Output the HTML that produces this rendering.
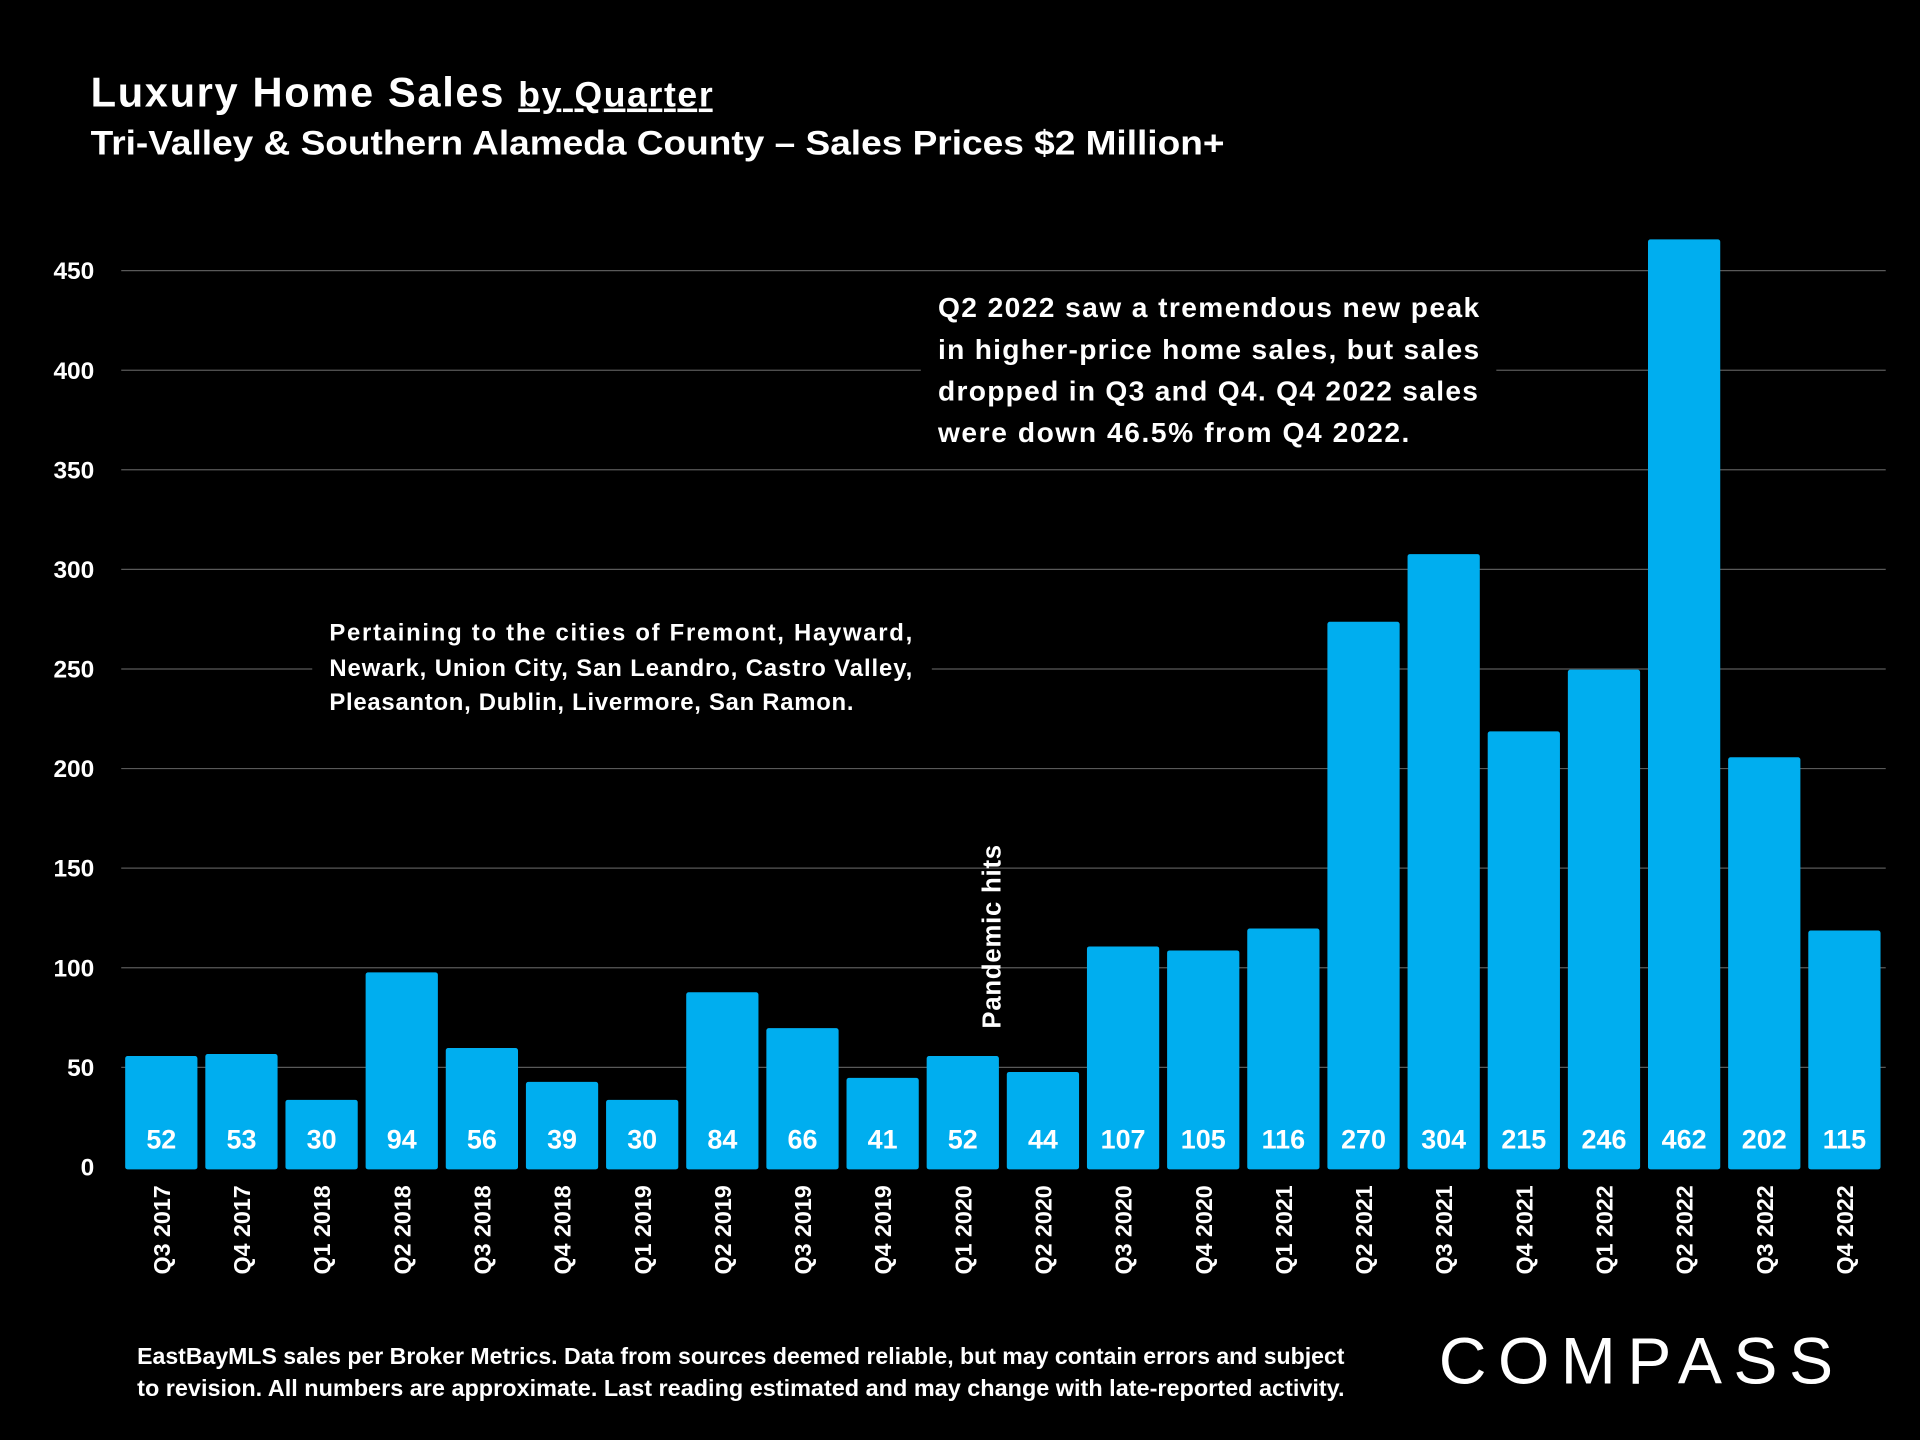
<!DOCTYPE html>
<html><head><meta charset="utf-8"><style>
html,body{margin:0;padding:0;background:#000;}
svg{display:block;}
text{font-family:"Liberation Sans","DejaVu Sans",sans-serif;fill:#fff;}
</style></head><body>
<svg id="chart" width="1920" height="1440" viewBox="0 0 1568 1176" xmlns="http://www.w3.org/2000/svg">
<rect x="0" y="0" width="1568" height="1176" fill="#000"/>
<text x="74" y="87" font-size="34" font-weight="bold" textLength="508" lengthAdjust="spacing">Luxury Home Sales <tspan font-size="29" text-decoration="underline">by Quarter</tspan></text>
<text x="74" y="126" font-size="28" font-weight="bold" textLength="926" lengthAdjust="spacingAndGlyphs">Tri-Valley &amp; Southern Alameda County – Sales Prices $2 Million+</text>
<g id="grid"></g>
<g id="yticks"></g>
<g id="bars"></g>
<g id="xticks"></g>
<g>
<rect x="752" y="232" width="470" height="140" fill="#000"/>
<text x="766" y="259" font-size="23" font-weight="bold" textLength="442" lengthAdjust="spacing">Q2 2022 saw a tremendous new peak</text>
<text x="766" y="293" font-size="23" font-weight="bold" textLength="442" lengthAdjust="spacing">in  higher-price home sales, but sales</text>
<text x="766" y="327" font-size="23" font-weight="bold" textLength="441" lengthAdjust="spacing">dropped in Q3 and Q4. Q4 2022 sales</text>
<text x="766" y="361" font-size="23" font-weight="bold" textLength="385" lengthAdjust="spacing">were down 46.5% from Q4 2022.</text>
</g>
<g>
<rect x="255" y="500" width="506" height="90" fill="#000"/>
<text x="269" y="523" font-size="19.5" font-weight="bold" textLength="476" lengthAdjust="spacing">Pertaining to the cities of Fremont, Hayward,</text>
<text x="269" y="552" font-size="19.5" font-weight="bold" textLength="476" lengthAdjust="spacing">Newark, Union City, San Leandro, Castro Valley,</text>
<text x="269" y="580" font-size="19.5" font-weight="bold" textLength="428" lengthAdjust="spacing">Pleasanton, Dublin, Livermore, San Ramon.</text>
</g>
<text transform="translate(817,840) rotate(-90)" font-size="21" font-weight="bold" textLength="150" lengthAdjust="spacing">Pandemic hits</text>
<text x="112" y="1114" font-size="18.5" font-weight="bold" textLength="986" lengthAdjust="spacingAndGlyphs">EastBayMLS sales per Broker Metrics. Data from sources deemed reliable, but may contain errors and subject</text>
<text x="112" y="1140" font-size="18.5" font-weight="bold" textLength="986" lengthAdjust="spacingAndGlyphs">to revision. All numbers are approximate. Last reading estimated and may change with late-reported activity.</text>
<text x="1175" y="1130" font-size="54" textLength="322" lengthAdjust="spacing">COMPASS</text>
</svg>
<script>
const categories = ["Q3 2017","Q4 2017","Q1 2018","Q2 2018","Q3 2018","Q4 2018","Q1 2019","Q2 2019","Q3 2019","Q4 2019","Q1 2020","Q2 2020","Q3 2020","Q4 2020","Q1 2021","Q2 2021","Q3 2021","Q4 2021","Q1 2022","Q2 2022","Q3 2022","Q4 2022"];
const salesValues = [52,53,30,94,56,39,30,84,66,41,52,44,107,105,116,270,304,215,246,462,202,115];
const yTicks = [0,50,100,150,200,250,300,350,400,450];

const NS = "http://www.w3.org/2000/svg";
const plotLeft = 99, plotRight = 1539, y0 = 953, yPerUnit = (953-221)/450;
const barBottom = 955, barLift = 6;
const step = (plotRight - plotLeft) / categories.length;
const barW = 59;
function yScale(v){ return y0 - v*yPerUnit; }
function xCenter(i){ return plotLeft + step*(i+0.5); }
function mk(tag, attrs, parent){ const e=document.createElementNS(NS,tag); for(const k in attrs) e.setAttribute(k,attrs[k]); parent.appendChild(e); return e; }

const grid=document.getElementById('grid'), yt=document.getElementById('yticks'), bars=document.getElementById('bars'), xt=document.getElementById('xticks');
yTicks.forEach(t=>{
  if(t>0){
    const l=mk('line',{x1:plotLeft,x2:plotRight+1,y1:yScale(t),y2:yScale(t),stroke:'#595959','stroke-width':1},grid);
    
    
  }
  const tx=mk('text',{x:77,y:yScale(t)+7,'text-anchor':'end','font-size':20,'font-weight':'bold'},yt);
  tx.textContent=t;
  
  
});
salesValues.forEach((v,i)=>{
  const cx=xCenter(i);
  const top=yScale(v)-barLift;
  const r=mk('rect',{x:cx-barW/2,y:top,width:barW,height:barBottom-top,fill:'#00aeef',rx:2},bars);
  
  
  const lb=mk('text',{x:cx,y:938,'text-anchor':'middle','font-size':22,'font-weight':'bold'},bars);
  lb.textContent=v;
  
  
  const xl=mk('text',{transform:`translate(${cx+7},968) rotate(-90)`,'text-anchor':'end','font-size':19,'font-weight':'bold'},xt);
  xl.textContent=categories[i];
  
  
});
</script>
</body></html>
